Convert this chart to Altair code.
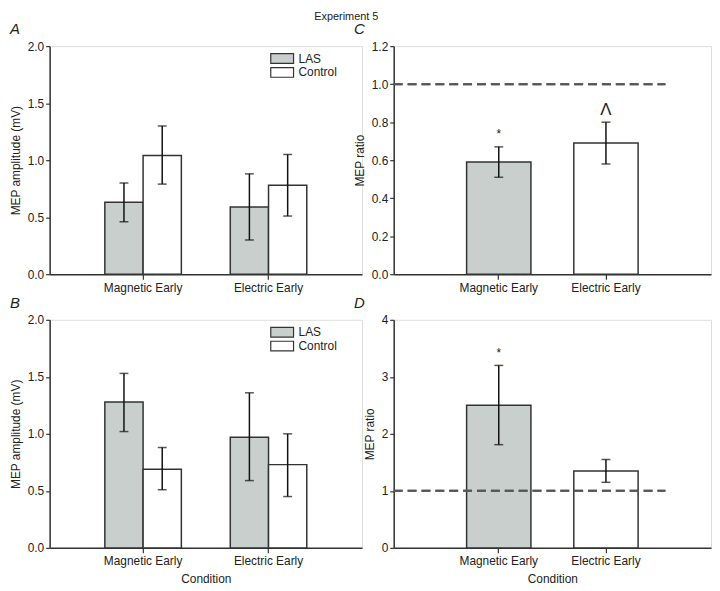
import altair as alt
import pandas as pd

conditions = ["Magnetic Early", "Electric Early"]
groups = ["LAS", "Control"]

# Panel A: MEP amplitude (mV)
a_mean = [0.63, 1.04, 0.59, 0.78]
a_lo = [0.46, 0.79, 0.30, 0.51]
a_hi = [0.80, 1.30, 0.88, 1.05]

# Panel B: MEP amplitude (mV)
b_mean = [1.28, 0.69, 0.97, 0.73]
b_lo = [1.02, 0.51, 0.59, 0.45]
b_hi = [1.53, 0.88, 1.36, 1.00]

# Panel C: MEP ratio
c_mean = [0.59, 0.69]
c_lo = [0.51, 0.58]
c_hi = [0.67, 0.80]
c_marks = ["*", "Λ"]

# Panel D: MEP ratio
d_mean = [2.50, 1.35]
d_lo = [1.81, 1.15]
d_hi = [3.20, 1.55]
d_marks = ["*", ""]

FONT = "Liberation Sans"
GRAY = "#c9cfcd"
EDGE = "#333333"


def grouped_df(mean, lo, hi):
    rows = []
    i = 0
    for c in conditions:
        for g in groups:
            rows.append({"cond": c, "grp": g, "mean": mean[i], "lo": lo[i], "hi": hi[i]})
            i += 1
    return pd.DataFrame(rows)


def ratio_df(mean, lo, hi, marks):
    fills = [GRAY, "#ffffff"]
    return pd.DataFrame({"cond": conditions, "mean": mean, "lo": lo, "hi": hi,
                         "mark": marks, "fill": fills})


W1, W2, H = 315, 320, 230


def xaxis(show_title):
    kw = dict(labelAngle=0, labelFontSize=12, labelFont=FONT,
              labelColor="#222", tickSize=5, tickColor=EDGE, domainColor=EDGE,
              domainWidth=1.5, tickWidth=1.2, labelPadding=3)
    if show_title:
        return alt.Axis(title="Condition", titleFont=FONT, titleFontSize=12,
                        titleFontWeight="normal", titleColor="#222", titlePadding=7, **kw)
    return alt.Axis(title=None, **kw)


def yaxis(title, values, fmt):
    return alt.Axis(title=title, values=values, format=fmt, grid=False,
                    labelOverlap=False, labelFlush=False, tickCount=len(values),
                    labelFontSize=12, labelFont=FONT, labelColor="#222",
                    titleFont=FONT, titleFontSize=12, titleFontWeight="normal",
                    titleColor="#222", tickSize=4, tickColor=EDGE,
                    domainColor=EDGE, domainWidth=1.5, tickWidth=1.2,
                    titlePadding=5)


def panel_title(letter):
    return alt.TitleParams(letter, anchor="start", frame="group", dx=-40, offset=3,
                           fontStyle="italic", fontWeight="normal", font=FONT,
                           fontSize=15, color="#222")


def grouped_panel(df, letter, show_xtitle):
    xsc = alt.Scale(paddingInner=0.39, paddingOuter=0.44)
    x = alt.X("cond:N", sort=conditions, scale=xsc, axis=xaxis(show_xtitle))
    xo = alt.XOffset("grp:N", sort=groups, scale=alt.Scale(paddingInner=0, paddingOuter=0))
    ysc = alt.Scale(domain=[0, 2])
    yax = yaxis("MEP amplitude (mV)", [0, 0.5, 1.0, 1.5, 2.0], ".1f")
    base = alt.Chart(df)
    bars = base.mark_bar(stroke=EDGE, strokeWidth=1.5).encode(
        x=x, xOffset=xo, y=alt.Y("mean:Q", scale=ysc, axis=yax),
        fill=alt.Fill("grp:N", sort=groups,
                      scale=alt.Scale(domain=groups, range=[GRAY, "#ffffff"]),
                      legend=alt.Legend(title=None, orient="none", legendX=228, legendY=6,
                                        symbolType="M-2,-0.85L2,-0.85L2,0.85L-2,0.85Z",
                                        symbolSize=132, symbolStrokeColor=EDGE,
                                        symbolStrokeWidth=1.2, labelFont=FONT,
                                        labelFontSize=12, labelColor="#222",
                                        rowPadding=-3, labelOffset=10)),
    )
    rule = base.mark_rule(color="#111", strokeWidth=1.5).encode(
        x=x, xOffset=xo, y=alt.Y("lo:Q", scale=ysc, axis=yax), y2="hi:Q")
    cap_hi = base.mark_tick(color="#111", thickness=1.5, size=9).encode(
        x=x, xOffset=xo, y=alt.Y("hi:Q", scale=ysc, axis=yax))
    cap_lo = base.mark_tick(color="#111", thickness=1.5, size=9).encode(
        x=x, xOffset=xo, y=alt.Y("lo:Q", scale=ysc, axis=yax))
    return alt.layer(bars, rule, cap_hi, cap_lo).properties(
        width=W1, height=H, title=panel_title(letter))


def ratio_panel(df, letter, ymax, yvals, fmt, show_xtitle):
    xsc = alt.Scale(paddingInner=0.40, paddingOuter=0.68)
    x = alt.X("cond:N", sort=conditions, scale=xsc, axis=xaxis(show_xtitle))
    ysc = alt.Scale(domain=[0, ymax])
    yax = yaxis("MEP ratio", yvals, fmt)
    base = alt.Chart(df)
    bars = base.mark_bar(stroke=EDGE, strokeWidth=1.5).encode(
        x=x, y=alt.Y("mean:Q", scale=ysc, axis=yax), fill=alt.Fill("fill:N", scale=None))
    dash = base.mark_rule(color="#555", strokeWidth=2, strokeDash=[9, 5]).encode(
        y=alt.datum(1), x=alt.value(0), x2=alt.value(274))
    rule = base.mark_rule(color="#111", strokeWidth=1.5).encode(
        x=x, y=alt.Y("lo:Q", scale=ysc, axis=yax), y2="hi:Q")
    cap_hi = base.mark_tick(color="#111", thickness=1.5, size=9).encode(
        x=x, y=alt.Y("hi:Q", scale=ysc, axis=yax))
    cap_lo = base.mark_tick(color="#111", thickness=1.5, size=9).encode(
        x=x, y=alt.Y("lo:Q", scale=ysc, axis=yax))
    star = base.transform_filter(alt.datum.mark == "*").mark_text(
        baseline="bottom", dy=-6, font=FONT, fontSize=12, color="#222").encode(
        x=x, y=alt.Y("hi:Q", scale=ysc, axis=yax), text="mark:N")
    lam = base.transform_filter(alt.datum.mark == "Λ").mark_text(
        baseline="bottom", dy=-3, font=FONT, fontSize=17, color="#222").encode(
        x=x, y=alt.Y("hi:Q", scale=ysc, axis=yax), text="mark:N")
    return alt.layer(bars, dash, rule, cap_hi, cap_lo, star, lam).properties(
        width=W2, height=H, title=panel_title(letter))


pA = grouped_panel(grouped_df(a_mean, a_lo, a_hi), "A", False)
pB = grouped_panel(grouped_df(b_mean, b_lo, b_hi), "B", True)
pC = ratio_panel(ratio_df(c_mean, c_lo, c_hi, c_marks), "C", 1.2,
                 [0, 0.2, 0.4, 0.6, 0.8, 1.0, 1.2], ".1f", False)
pD = ratio_panel(ratio_df(d_mean, d_lo, d_hi, d_marks), "D", 4,
                 [0, 1, 2, 3, 4], "d", True)

chart = alt.concat(pA, pC, pB, pD, columns=2, spacing={"row": 46, "column": 32},
                   bounds="flush").properties(
    title=alt.TitleParams("Experiment 5", anchor="middle", font=FONT, fontSize=11,
                          fontWeight="normal", color="#222", offset=0, dx=-14),
    padding={"left": 0, "top": 0, "right": 0, "bottom": 0},
).resolve_scale(fill="independent").configure_view(stroke=None).configure(
    background="white")

chart.save("out.html", embed_options={"renderer": "svg", "actions": False})
